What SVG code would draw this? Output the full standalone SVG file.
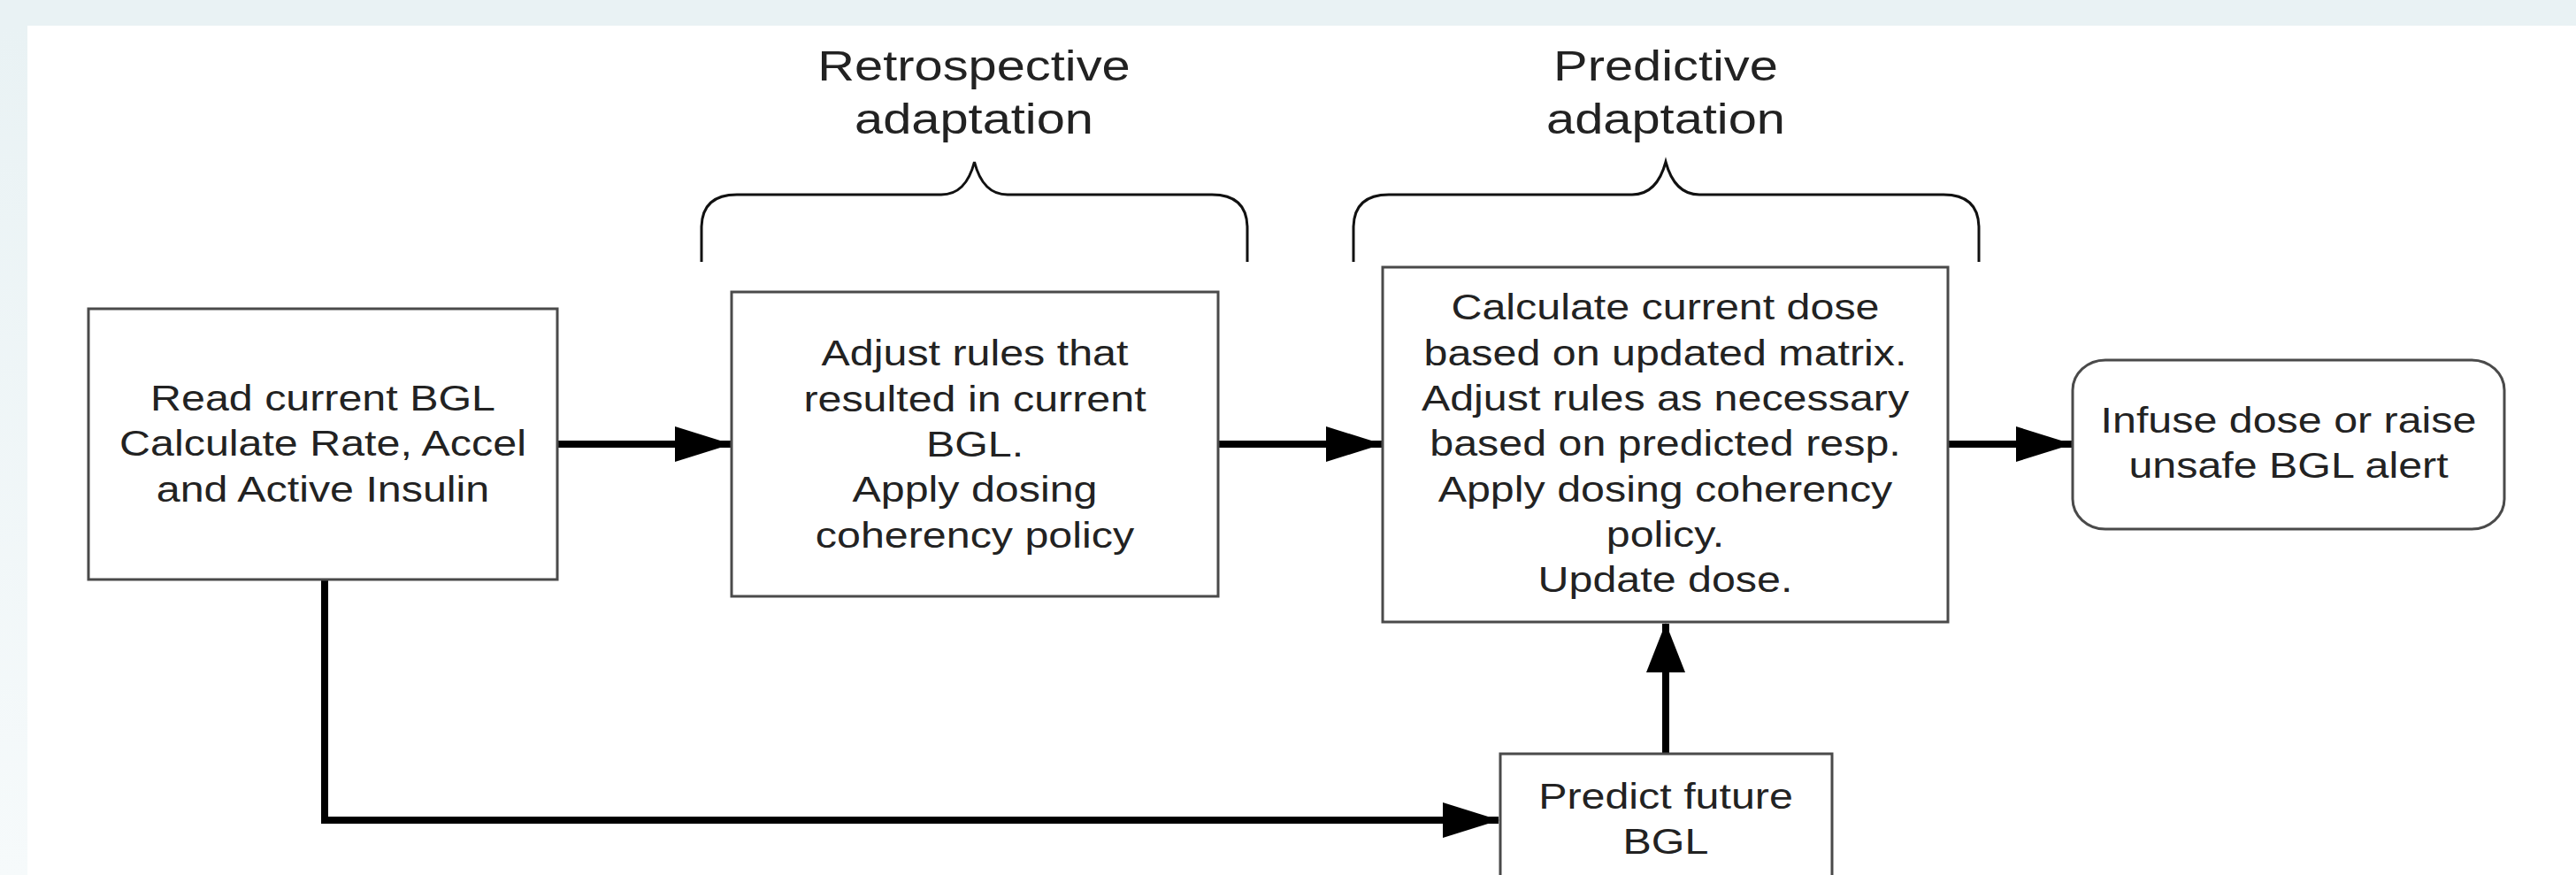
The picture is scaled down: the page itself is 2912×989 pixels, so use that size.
<svg xmlns="http://www.w3.org/2000/svg" width="2912" height="989" viewBox="0 0 2912 989">
  <defs>
    <linearGradient id="strip" x1="0" y1="0" x2="0" y2="1">
      <stop offset="0" stop-color="#e9f2f4"/>
      <stop offset="1" stop-color="#f6fafb"/>
    </linearGradient>
    <marker id="arrowH" markerUnits="userSpaceOnUse" markerWidth="64" markerHeight="40" refX="63" refY="20" orient="auto">
      <path d="M0,0 L64,20 L0,40 Z" fill="#000"/>
    </marker>
    <marker id="arrowV" markerUnits="userSpaceOnUse" markerWidth="56" markerHeight="44" refX="55" refY="22" orient="auto">
      <path d="M0,0 L56,22 L0,44 Z" fill="#000"/>
    </marker>
    <style>
      .box { fill: #ffffff; stroke: #4a4a4a; stroke-width: 3; }
      .brace { fill: none; stroke: #111; stroke-width: 3; }
      .conn { fill: none; stroke: #000; stroke-width: 8; }
      .t { font-family: "Liberation Sans", Arial, sans-serif; font-size: 40px; fill: #222; text-anchor: middle; }
      .title { font-family: "Liberation Sans", Arial, sans-serif; font-size: 49px; fill: #222; text-anchor: middle; }
    </style>
  </defs>

  <g id="background">
    <rect x="0" y="0" width="2912" height="989" fill="#e9f2f4"/>
    <rect x="0" y="29" width="31" height="960" fill="url(#strip)"/>
    <rect x="31" y="29" width="2881" height="960" fill="#ffffff"/>
  </g>

  <g id="brace-retro">
    <path class="brace" d="M793,296 V258 Q793,220 833,220 H1064 Q1092,220 1101.5,183 Q1111,220 1139,220 H1370 Q1410,220 1410,258 V296"/>
    <text class="title" transform="matrix(1.18 0 0 1 1101 0)"><tspan x="0" y="91">Retrospective</tspan><tspan x="0" y="151">adaptation</tspan></text>
  </g>

  <g id="brace-pred">
    <path class="brace" d="M1530,296 V258 Q1530,220 1570,220 H1845 Q1873,220 1883,183 Q1893,220 1921,220 H2197 Q2237,220 2237,258 V296"/>
    <text class="title" transform="matrix(1.18 0 0 1 1883 0)"><tspan x="0" y="91">Predictive</tspan><tspan x="0" y="151">adaptation</tspan></text>
  </g>

  <g id="connectors">
    <line class="conn" x1="630" y1="502" x2="826" y2="502" marker-end="url(#arrowH)"/>
    <line class="conn" x1="1377" y1="502" x2="1562" y2="502" marker-end="url(#arrowH)"/>
    <line class="conn" x1="2202" y1="502" x2="2342" y2="502" marker-end="url(#arrowH)"/>
    <path class="conn" d="M367,655 V927 H1694" marker-end="url(#arrowH)"/>
    <line class="conn" x1="1883" y1="852" x2="1883" y2="705" marker-end="url(#arrowV)"/>
  </g>

  <g id="node-read">
    <rect class="box" x="100" y="349" width="530" height="306"/>
    <text class="t" transform="matrix(1.21 0 0 1 365 0)"><tspan x="0" y="464">Read current BGL</tspan><tspan x="0" y="515.5">Calculate Rate, Accel</tspan><tspan x="0" y="567">and Active Insulin</tspan></text>
  </g>

  <g id="node-retro">
    <rect class="box" x="827" y="330" width="550" height="344"/>
    <text class="t" transform="matrix(1.21 0 0 1 1102 0)"><tspan x="0" y="413.5">Adjust rules that</tspan><tspan x="0" y="464.8">resulted in current</tspan><tspan x="0" y="516">BGL.</tspan><tspan x="0" y="567.3">Apply dosing</tspan><tspan x="0" y="618.6">coherency policy</tspan></text>
  </g>

  <g id="node-pred">
    <rect class="box" x="1563" y="302" width="639" height="401"/>
    <text class="t" transform="matrix(1.21 0 0 1 1882.5 0)"><tspan x="0" y="361.5">Calculate current dose</tspan><tspan x="0" y="412.8">based on updated matrix.</tspan><tspan x="0" y="464.1">Adjust rules as necessary</tspan><tspan x="0" y="515.4">based on predicted resp.</tspan><tspan x="0" y="566.7">Apply dosing coherency</tspan><tspan x="0" y="618">policy.</tspan><tspan x="0" y="669.3">Update dose.</tspan></text>
  </g>

  <g id="node-infuse">
    <rect class="box" x="2343" y="407" width="488" height="191" rx="37" ry="34"/>
    <text class="t" transform="matrix(1.21 0 0 1 2587 0)"><tspan x="0" y="489.5">Infuse dose or raise</tspan><tspan x="0" y="540.5">unsafe BGL alert</tspan></text>
  </g>

  <g id="node-future">
    <rect class="box" x="1696" y="852" width="375" height="160"/>
    <text class="t" transform="matrix(1.21 0 0 1 1883 0)"><tspan x="0" y="914">Predict future</tspan><tspan x="0" y="965.5">BGL</tspan></text>
  </g>
</svg>
